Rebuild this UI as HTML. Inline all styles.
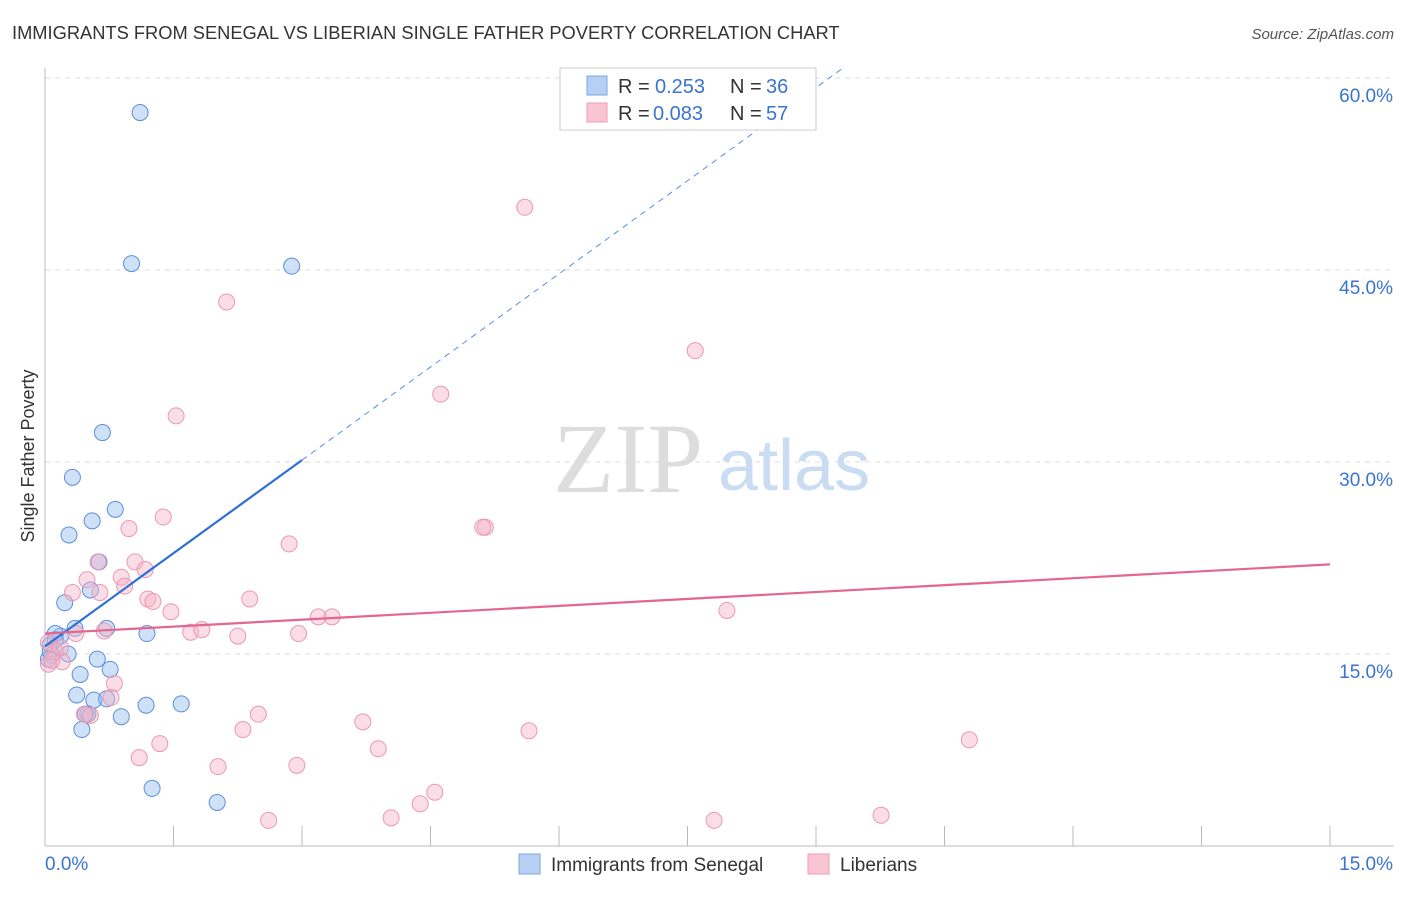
<!DOCTYPE html>
<html><head><meta charset="utf-8"><style>
body{margin:0;background:#fff;font-family:"Liberation Sans",sans-serif;}
</style></head><body>
<svg id="chart" width="1406" height="892" viewBox="0 0 1406 892" xmlns="http://www.w3.org/2000/svg">
<text x="12" y="39" font-size="18.3" fill="#333">IMMIGRANTS FROM SENEGAL VS LIBERIAN SINGLE FATHER POVERTY CORRELATION CHART</text>
<text x="1394" y="39" font-size="15" fill="#555" font-style="italic" text-anchor="end">Source: ZipAtlas.com</text>
<text x="34" y="456" font-size="18" fill="#333" text-anchor="middle" transform="rotate(-90 34 456)">Single Father Poverty</text>
<g id="grid"></g>
<g><text x="553" y="492" font-size="100" fill="#ddd" font-family="Liberation Serif,serif">ZIP</text><text x="718" y="490" font-size="72" fill="#c9dcf2">atlas</text></g>
<g id="marks"></g>
<g>
<rect x="560" y="68" width="256" height="62" fill="#fff" stroke="#ccc"/>
<rect x="587" y="76" width="20" height="19" fill="#b5d0f3" stroke="#7aa6e0"/>
<rect x="587" y="103" width="20" height="19" fill="#f9c5d3" stroke="#ee9bb4"/>
<text x="618" y="93" font-size="20" fill="#333">R = </text>
<text x="655" y="93" font-size="20" fill="#3a74d0">0.253</text>
<text x="730" y="93" font-size="20" fill="#333">N = </text>
<text x="766" y="93" font-size="20" fill="#3a74d0">36</text>
<text x="618" y="120" font-size="20" fill="#333">R = </text>
<text x="653" y="120" font-size="20" fill="#3a74d0">0.083</text>
<text x="730" y="120" font-size="20" fill="#333">N = </text>
<text x="766" y="120" font-size="20" fill="#3a74d0">57</text>
</g>
<g>
<rect x="519" y="854" width="21" height="20" fill="#b5d0f3" stroke="#7aa6e0"/>
<text x="551" y="871" font-size="19" fill="#333">Immigrants from Senegal</text>
<rect x="808" y="854" width="21" height="20" fill="#f9c5d3" stroke="#ee9bb4"/>
<text x="840" y="871" font-size="19" fill="#333">Liberians</text>
</g>
</svg>
<script>
const xTicksMinor=[0,1.5,3,4.5,6,7.5,9,10.5,12,13.5,15];
const yTicks=[15,30,45,60];
const yTickLabels=["15.0%","30.0%","45.0%","60.0%"];
const xTickLabels=["0.0%","15.0%"];
const senegalX=[1.11,1.01,2.88,0.67,0.32,0.82,0.55,0.28,0.63,0.53,0.23,0.35,0.18,0.12,0.72,1.19,0.06,0.27,0.08,0.04,0.61,0.41,0.76,0.37,0.57,0.72,0.5,0.47,0.89,0.43,1.18,1.59,1.25,2.01,0.12,0.06];
const senegalY=[57.3,45.5,45.3,32.3,28.8,26.3,25.4,24.3,22.2,20.0,19.0,17.0,16.4,16.6,17.0,16.6,15.7,15.0,14.9,14.6,14.6,13.4,13.8,11.8,11.4,11.5,10.3,10.3,10.1,9.1,11.0,11.1,4.5,3.4,16.1,15.2];
const liberiansX=[5.6,2.12,7.59,1.53,4.62,1.38,0.98,5.14,5.11,2.85,0.62,1.05,1.17,0.89,0.49,0.93,0.32,0.64,1.2,1.26,2.39,1.47,3.19,3.35,7.96,0.69,0.36,1.7,1.83,2.25,2.96,0.04,0.12,0.2,0.04,0.81,0.77,0.46,0.53,2.49,3.71,2.31,5.65,1.34,3.89,10.79,1.1,2.02,2.94,4.55,4.38,2.61,4.04,7.81,9.76,0.18,0.08];
const liberiansY=[49.9,42.5,38.7,33.6,35.3,25.7,24.8,24.9,24.9,23.6,22.2,22.2,21.6,21.0,20.8,20.3,19.8,19.8,19.3,19.1,19.3,18.3,17.9,17.9,18.4,16.8,16.6,16.7,16.9,16.4,16.6,15.9,15.2,14.4,14.2,12.7,11.6,10.3,10.2,10.3,9.7,9.1,9.0,8.0,7.6,8.3,6.9,6.2,6.3,4.2,3.3,2.0,2.2,2.0,2.4,15.5,14.5];
const senegalTrend=[15.6,4.85];
const liberiansTrend=[16.6,0.36];
const NS="http://www.w3.org/2000/svg";
const X=v=>45+v/15*1285;
const Y=v=>846-v/15*192;
const grid=document.getElementById('grid'),marks=document.getElementById('marks');
function mk(tag,at,parent){const e=document.createElementNS(NS,tag);for(const k in at)e.setAttribute(k,at[k]);parent.appendChild(e);return e;}
yTicks.forEach((t,i)=>{
 const l=mk('line',{x1:45,x2:1394,y1:Y(t),y2:Y(t),stroke:'#ddd','stroke-dasharray':'5,5'},grid);
 
 
 const tx=mk('text',{x:1393,y:Y(t)+24,'font-size':19,fill:'#3a74d0','text-anchor':'end'},grid);
 tx.textContent=yTickLabels[i];
 
 
});
const ax=mk('line',{x1:45,x2:1394,y1:846,y2:846,stroke:'#bbb'},grid);


const ay=mk('line',{x1:45,x2:45,y1:68,y2:846,stroke:'#bbb'},grid);


xTicksMinor.forEach(t=>{
 const l=mk('line',{x1:X(t),x2:X(t),y1:826,y2:846,stroke:'#bbb'},grid);
 
 
});
[[0,'start',45],[15,'end',1393]].forEach((d,i)=>{
 const tx=mk('text',{x:d[2],y:870,'font-size':19,fill:'#3a74d0','text-anchor':d[1]},grid);
 tx.textContent=xTickLabels[i];
 
 
});
const st=(x)=>senegalTrend[0]+senegalTrend[1]*x;
const s2=mk('line',{x1:X(3),y1:Y(st(3)),x2:X(9.3),y2:Y(st(9.3)),stroke:'#5b8fd9','stroke-width':1,'stroke-dasharray':'6,5'},grid);


senegalX.forEach((x,i)=>{
 const c=mk('circle',{cx:X(x),cy:Y(senegalY[i]),r:8,fill:'rgba(160,195,240,0.5)',stroke:'#5b8fd9','stroke-width':1},marks);
 
 
});
liberiansX.forEach((x,i)=>{
 const c=mk('circle',{cx:X(x),cy:Y(liberiansY[i]),r:8,fill:'rgba(245,180,200,0.45)',stroke:'#eb98b2','stroke-width':1},marks);
 
 
});
const s1=mk('line',{x1:X(0),y1:Y(st(0)),x2:X(3),y2:Y(st(3)),stroke:'#2f6fd6','stroke-width':2.2},marks);


const lt=(x)=>liberiansTrend[0]+liberiansTrend[1]*x;
const p=mk('line',{x1:X(0),y1:Y(lt(0)),x2:X(15),y2:Y(lt(15)),stroke:'#e4668e','stroke-width':2.2},marks);


</script>
</body></html>
